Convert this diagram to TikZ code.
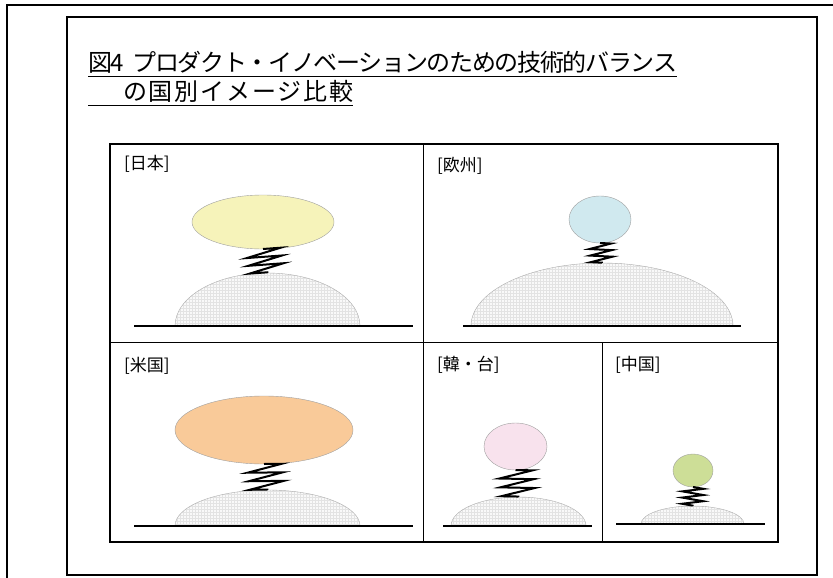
\documentclass[tikz,border=0pt]{standalone}
\usepackage{fontspec}
\newfontfamily\jpfont{Noto Sans CJK JP}
\newfontfamily\headtight[LetterSpace=-5.5]{Noto Sans CJK JP}
\newfontfamily\headwide[LetterSpace=7.5]{Noto Sans CJK JP}
\usetikzlibrary{shapes.geometric,decorations.pathmorphing,patterns}

\definecolor{jpcol}{RGB}{246,243,186}
\definecolor{eucol}{RGB}{208,233,239}
\definecolor{uscol}{RGB}{249,202,153}
\definecolor{krcol}{RGB}{248,226,237}
\definecolor{cncol}{RGB}{205,222,151}

\begin{document}
\begin{tikzpicture}[x=1pt,y=-1pt,
    heading/.style={anchor=base west,inner sep=0pt,font=\fontsize{24}{24}\selectfont},
    country/.style={anchor=west,inner sep=0pt,font=\jpfont\fontsize{17}{17}\selectfont},
    ball/.style={ellipse,draw=gray!75,inner sep=0pt,outer sep=0pt},
    hill/.style={draw=gray!65,pattern=grid,pattern color=gray!22,preaction={fill=gray!5}},
    ground/.style={line width=2pt},
    spring/.style 2 args={line width=2pt,decorate,
                   decoration={zigzag,amplitude=#1,segment length=#2}}]

  \useasboundingbox (0,0) rectangle (833,578);
  \draw[line width=1.5pt] (7,578) -- (7,5) -- (833,5);
  \draw[line width=2pt] (67,17) rectangle (817,575);

  % heading, underlined
  \node[heading] (head1) at (88,72) {\headtight 図4\ \ プロダクト・イノベーションのための技術的バランス};
  \node[heading] (head2) at (123,100) {\headwide の国別イメージ比較};
  \draw[line width=1pt] (88,77) -- (head1.east |- 0,77);
  \draw[line width=1pt] (88,105) -- (head2.east |- 0,105);

  % panels
  \draw[line width=2pt] (110,144) rectangle (778,542);
  \draw (110,342) -- (778,342);
  \draw (423,144) -- (423,542);
  \draw (602,342) -- (602,542);

  % Japan
  \node[country] (jp) at (124,164) {[日本]};
  \draw[hill] (175,326) arc[start angle=180,end angle=270,x radius=92.5,y radius=53]
    coordinate (jp top) arc[start angle=270,end angle=360,x radius=92.5,y radius=53] -- cycle;
  \draw[ground] (134,326) -- (413,326);
  \node[ball,fill=jpcol,minimum width=142,minimum height=54] (jp ball) at (263,222) {};
  \draw[spring={17.5}{7.9}] (jp ball.south) -- (jp top);

  % Europe
  \node[country] (eu) at (437,166) {[欧州]};
  \draw[hill] (471,326) arc[start angle=180,end angle=270,x radius=131,y radius=63]
    coordinate (eu top) arc[start angle=270,end angle=360,x radius=131,y radius=63] -- cycle;
  \draw[ground] (463,326) -- (741,326);
  \node[ball,fill=eucol,minimum width=62,minimum height=47] (eu ball) at (600,219.5) {};
  \draw[spring={11}{6.6}] (eu ball.south) -- (eu top);

  % USA
  \node[country] (us) at (124,366) {[米国]};
  \draw[hill] (175,526) arc[start angle=180,end angle=270,x radius=92.5,y radius=36]
    coordinate (us top) arc[start angle=270,end angle=360,x radius=92.5,y radius=36] -- cycle;
  \draw[ground] (134,526) -- (413,526);
  \node[ball,fill=uscol,minimum width=178,minimum height=68] (us ball) at (264,430) {};
  \draw[spring={17.5}{8.6}] (us ball.south) -- (us top);

  % Korea, Taiwan
  \node[country] (kr) at (437,365) {[韓・台]};
  \draw[hill] (451,526) arc[start angle=180,end angle=270,x radius=67.5,y radius=29]
    coordinate (kr top) arc[start angle=270,end angle=360,x radius=67.5,y radius=29] -- cycle;
  \draw[ground] (443,526) -- (592,526);
  \node[ball,fill=krcol,minimum width=63,minimum height=47] (kr ball) at (515.5,446.5) {};
  \draw[spring={17}{8.9}] (kr ball.south) -- (kr top);

  % China
  \node[country] (cn) at (615,365) {[中国]};
  \draw[hill] (641,524) arc[start angle=180,end angle=270,x radius=51.5,y radius=18]
    coordinate (cn top) arc[start angle=270,end angle=360,x radius=51.5,y radius=18] -- cycle;
  \draw[ground] (616,524) -- (765,524);
  \node[ball,fill=cncol,minimum width=40,minimum height=33] (cn ball) at (693,470.5) {};
  \draw[spring={10.5}{6.2}] (cn ball.south) -- (cn top);
\end{tikzpicture}
\end{document}
